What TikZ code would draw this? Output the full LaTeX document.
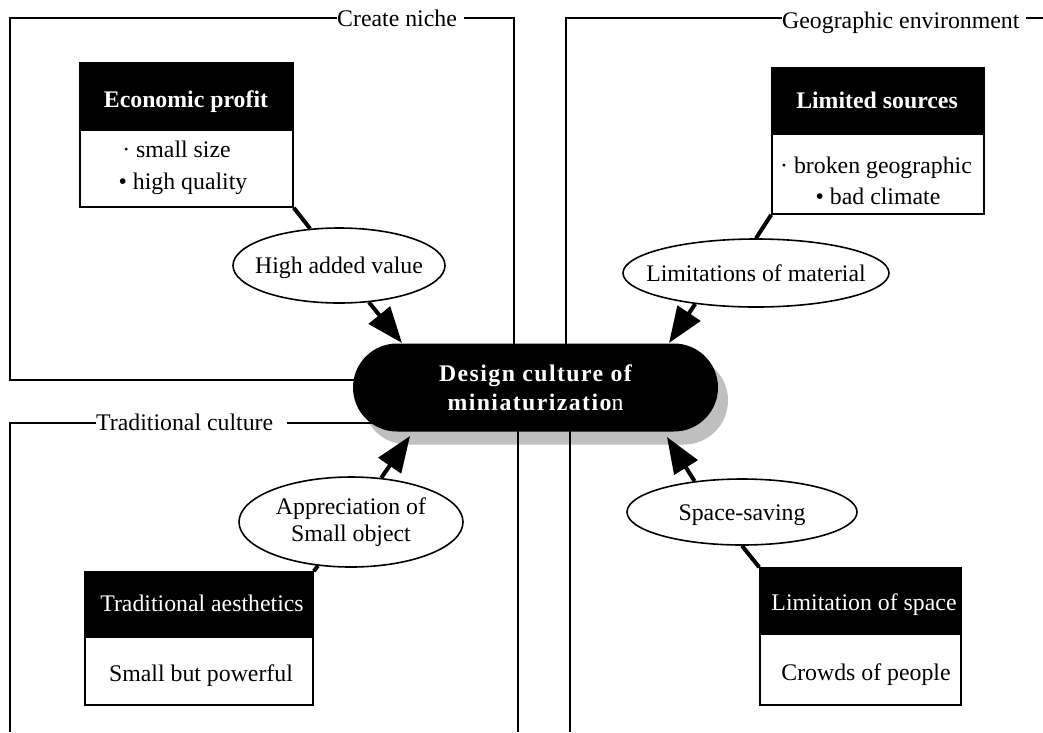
\documentclass[tikz,border=0pt]{standalone}
\usepackage{fontspec}
\setmainfont{Liberation Serif}
\newfontfamily\spacedfont[LetterSpace=6]{Liberation Serif}
\usetikzlibrary{arrows.meta,shapes.geometric,shapes.misc,shadows}
\begin{document}
\begin{tikzpicture}[x=1pt,y=-1pt,
  every node/.style={font=\fontsize{23.8}{27}\selectfont, inner sep=0pt},
  boldtxt/.style={font=\fontsize{23.8}{27}\selectfont\bfseries},
  frameline/.style={line width=1.6pt},
  hdbox/.style={rectangle, draw=black, fill=black, line width=1.6pt},
  bdbox/.style={rectangle, draw=black, fill=white, line width=1.6pt},
  oval/.style={ellipse, draw=black, fill=white, line width=1.6pt},
  link/.style={line width=4pt},
  flow/.style={line width=4pt, -{Triangle[length=36pt,width=27pt]}},
  lab/.style={anchor=base west},
  txt/.style={anchor=base},
  wtxt/.style={anchor=base, text=white}]

\useasboundingbox (0,0) rectangle (1043,732);

% central node
\node[rounded rectangle, fill=black, minimum width=365pt, minimum height=88pt,
      text=white, align=center,
      drop shadow={shadow xshift=10pt, shadow yshift=-13pt, fill=black!25, opacity=1},
      font=\spacedfont\bfseries\fontsize{23.8}{29}\selectfont]
  (core) at (535.5,387.5) {Design culture of\\miniaturizatio{\mdseries n}};

% frames
\node[lab] (cn) at (337,26) {Create niche\kern7pt};
\coordinate (f1l) at (10,18);
\coordinate (f1r) at (514,18);
\draw[frameline] (cn.west |- f1l) -- (f1l) -- (10,380) -- (400,380);
\draw[frameline] (cn.east |- f1r) -- (f1r) -- (514,360);

\node[lab] (ge) at (782,28) {Geographic environment\kern6pt};
\coordinate (f2l) at (566,18);
\coordinate (f2r) at (1043,18);
\draw[frameline] (ge.west |- f2l) -- (f2l) -- (566,360);
\draw[frameline] (ge.east |- f2r) -- (f2r);

\node[lab] (tc) at (96,430) {Traditional culture\kern14pt};
\coordinate (f3l) at (10,423);
\coordinate (f3r) at (400,423);
\draw[frameline] (tc.west |- f3l) -- (f3l) -- (10,732);
\draw[frameline] (tc.east |- f3r) -- (f3r);
\draw[frameline] (518,420) -- (518,732);
\draw[frameline] (570,420) -- (570,732);

% Economic profit
\node[hdbox, minimum width=213pt, minimum height=67pt] (ehead) at (186.5,96.5) {};
\node[bdbox, minimum width=213pt, minimum height=77pt] (ebody) at (186.5,168.5) {};
\node[wtxt, boldtxt] (etitle) at (186,107) {Economic profit};
\node[txt] (e1) at (176.5,157) {· small size};
\node[txt] (e2) at (183,189) {• high quality};

% Limited sources
\node[hdbox, minimum width=212pt, minimum height=66pt] (lhead) at (878,101) {};
\node[bdbox, minimum width=212pt, minimum height=80pt] (lbody) at (878,174) {};
\node[wtxt, boldtxt] (ltitle) at (877,108) {Limited sources};
\node[txt] (l1) at (876,173) {· broken geographic};
\node[txt] (l2) at (878,204) {• bad climate};

% Traditional aesthetics
\node[hdbox, minimum width=228pt, minimum height=65pt] (thead) at (199,604.5) {};
\node[bdbox, minimum width=228pt, minimum height=68pt] (tbody) at (199,671) {};
\node[wtxt] (ttitle) at (202,611) {Traditional aesthetics};
\node[txt] (t1) at (201,681) {Small but powerful};

% Limitation of space
\node[hdbox, minimum width=201pt, minimum height=66pt] (shead) at (860.5,601) {};
\node[bdbox, minimum width=201pt, minimum height=71pt] (sbody) at (860.5,669.5) {};
\node[wtxt] (stitle) at (864,610) {Limitation of space};
\node[txt] (s1) at (866,680) {Crowds of people};

% ellipses
\node[oval, minimum width=212pt, minimum height=75pt, text height=16pt, text depth=0pt]
  (o1) at (339,265.5) {\makebox[0pt]{High added value}};
\node[oval, minimum width=266pt, minimum height=68pt, text height=16pt, text depth=0pt]
  (o2) at (756,273) {\makebox[0pt]{Limitations of material}};
\node[oval, minimum width=224pt, minimum height=90pt, align=center]
  (o3) at (351,522) {Appreciation of\\Small object};
\node[oval, minimum width=230pt, minimum height=66pt, text height=16pt, text depth=0pt]
  (o4) at (742,512) {\makebox[0pt]{Space-saving}};

% arrow tips on the central node
\coordinate (p1) at (402,343);
\coordinate (p2) at (669,343);
\coordinate (p3) at (410,436);
\coordinate (p4) at (667,437);

% connectors
\draw[link] (ebody.south east) -- (o1);
\draw[flow] (o1) -- (p1);
\draw[link] (lbody.south west) -- (o2.north);
\draw[flow] (o2.207) -- (p2);
\draw[link] (thead.north east) -- (o3);
\draw[flow] (o3) -- (p3);
\draw[link] (shead.north west) -- (o4.south);
\draw[flow] (o4.147) -- (p4);
\end{tikzpicture}
\end{document}
